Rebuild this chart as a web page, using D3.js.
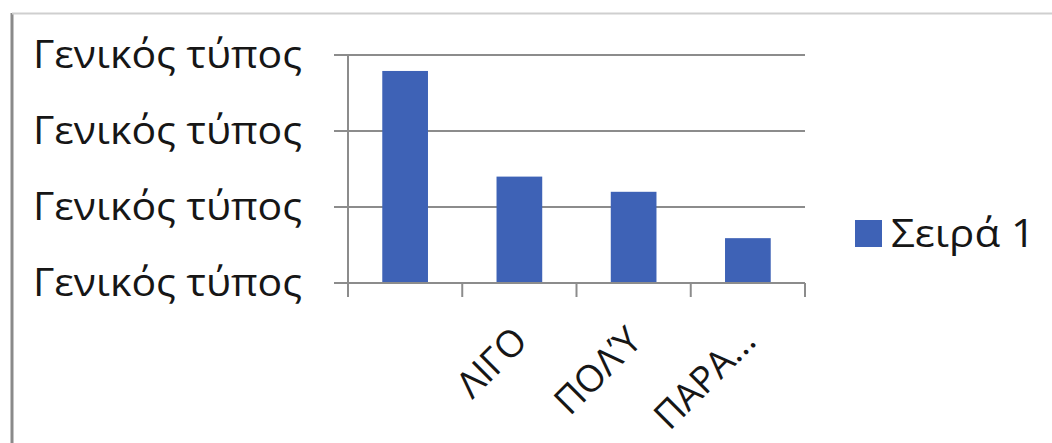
<!DOCTYPE html>
<html><head><meta charset="utf-8">
<script src="https://cdn.jsdelivr.net/npm/d3@7"></script>
<style>html,body{margin:0;padding:0;background:#fff;}svg{display:block;}</style>
</head><body>
<svg id="c" width="1052" height="443"></svg>
<script>
const categories = ["", "ΛΙΓΟ", "ΠΟΛΎ", "ΠΑΡΑ..."];
const values = [2.79, 1.40, 1.20, 0.59];
const yTicks = [0, 1, 2, 3];
const yTickLabels = ["Γενικός τύπος", "Γενικός τύπος", "Γενικός τύπος", "Γενικός τύπος"];
const seriesName = "Σειρά 1";

const svg = d3.select("#c");
const font = "'Open Sans', 'Noto Sans', sans-serif";
const barColor = "#3E62B6";
const gridColor = "#8c8c8c";
const textColor = "#161616";

// outer frame
svg.append("line").attr("x1", 12).attr("x2", 12).attr("y1", 13).attr("y2", 443)
  .attr("stroke", "#8a8a8a").attr("stroke-width", 3);
svg.append("line").attr("x1", 12).attr("x2", 1052).attr("y1", 13.5).attr("y2", 13.5)
  .attr("stroke", "#cfcfcf").attr("stroke-width", 2);

const pLeft = 348, pRight = 805, pTop = 55, pBottom = 283;
const x = d3.scaleBand().domain(categories).range([pLeft, pRight]).paddingInner(0.6).paddingOuter(0.3);
const xb = d3.scaleBand().domain(categories).range([pLeft, pRight]);
const y = d3.scaleLinear().domain([0, 3]).range([pBottom, pTop]);

// gridlines
svg.append("g").selectAll("line").data(yTicks).join("line")
  .attr("x1", pLeft - 14).attr("x2", pRight)
  .attr("y1", d => y(d)).attr("y2", d => y(d))
  .attr("stroke", gridColor).attr("stroke-width", 2);

// y axis
const yAxis = d3.axisLeft(y).tickValues(yTicks).tickSize(0).tickPadding(46)
  .tickFormat((d, i) => yTickLabels[i]);
const gy = svg.append("g").attr("transform", `translate(${pLeft},0)`).call(yAxis);
gy.select(".domain").remove();
gy.selectAll("text").attr("font-family", font).attr("font-size", 39).attr("fill", textColor)
  .attr("textLength", 269).attr("lengthAdjust", "spacingAndGlyphs");
svg.append("line").attr("x1", pLeft).attr("x2", pLeft).attr("y1", pTop).attr("y2", pBottom + 14)
  .attr("stroke", gridColor).attr("stroke-width", 2);

// bars
svg.append("g").selectAll("rect").data(values).join("rect")
  .attr("x", (d, i) => x(categories[i]))
  .attr("width", x.bandwidth())
  .attr("y", d => y(d))
  .attr("height", d => y(0) - y(d))
  .attr("fill", barColor);

// x axis line and ticks at category boundaries
svg.append("line").attr("x1", pLeft).attr("x2", pRight).attr("y1", pBottom).attr("y2", pBottom)
  .attr("stroke", gridColor).attr("stroke-width", 2);
const bounds = categories.map(c => xb(c)).concat([pRight]);
svg.append("g").selectAll("line").data(bounds).join("line")
  .attr("x1", d => d).attr("x2", d => d).attr("y1", pBottom).attr("y2", pBottom + 14)
  .attr("stroke", gridColor).attr("stroke-width", 2);

// x labels rotated
svg.append("g").selectAll("text").data(categories).join("text")
  .attr("transform", c => `translate(${xb(c) + xb.bandwidth() / 2 + 10},${pBottom + 60}) rotate(-45)`)
  .attr("text-anchor", "end")
  .attr("font-family", font).attr("font-size", 37).attr("fill", textColor)
  .text(c => c);

// legend
const lg = svg.append("g").attr("transform", "translate(855,220)");
lg.append("rect").attr("width", 27).attr("height", 27).attr("fill", barColor);
lg.append("text").attr("x", 36).attr("y", 27).attr("font-family", font).attr("font-size", 39)
  .attr("fill", textColor).attr("textLength", 144).attr("lengthAdjust", "spacingAndGlyphs")
  .text(seriesName);
</script>
</body></html>
